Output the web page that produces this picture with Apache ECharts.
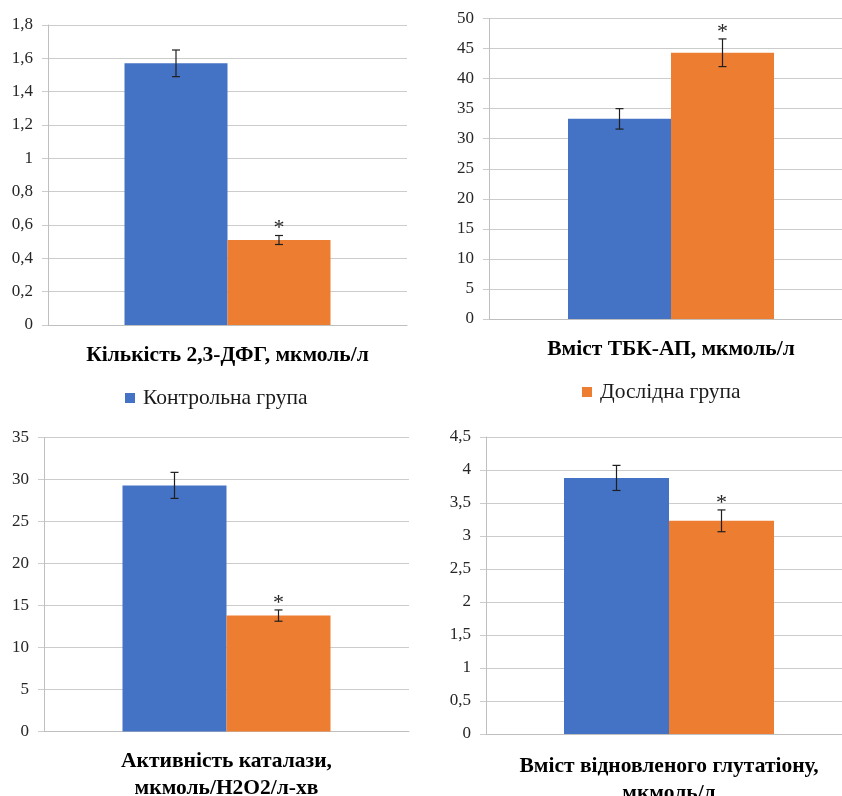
<!DOCTYPE html>
<html>
<head>
<meta charset="utf-8">
<title>chart</title>
<script src="https://cdn.jsdelivr.net/npm/echarts@6/dist/echarts.min.js"></script>
<style>
  html, body { margin: 0; padding: 0; background: #fff; width: 842px; height: 796px; overflow: hidden; }
  /* right plots run past the picture edge, so the canvas is a bit wider */
  #main { width: 870px; height: 796px; }
</style>
</head>
<body>
<div id="main"></div>
<script>
// data
var categories = [
    'Кількість 2,3-ДФГ, мкмоль/л',
    'Вміст ТБК-АП, мкмоль/л',
    'Активність каталази,\nмкмоль/H2O2/л-хв',
    'Вміст відновленого глутатіону,\nмкмоль/л'
];
var groupNames = ['Контрольна група', 'Дослідна група'];
var controlValues = [1.57, 33.3, 29.3, 3.88];
var controlErrors = [0.08, 1.7, 1.55, 0.19];
var testValues = [0.51, 44.3, 13.8, 3.23];
var testErrors = [0.027, 2.3, 0.67, 0.165];
var testStars = [true, true, true, true];
var yMax = [1.8, 50, 35, 4.5];
var yStep = [0.2, 5, 5, 0.5];

var serif = "'Liberation Serif', 'Times New Roman', serif";
var blue = '#4472C4';
var orange = '#ED7D31';

// plot boxes
var boxes = [
    { left: 48, top: 25, width: 359, height: 300, bar: 103, labelGap: 17 },
    { left: 489, top: 18.5, width: 364, height: 300.5, bar: 103, labelGap: 17 },
    { left: 44, top: 437.5, width: 365, height: 294, bar: 104, labelGap: 16 },
    { left: 486, top: 437, width: 366, height: 297, bar: 105, labelGap: 19 }
];

function tickText(v) {
    var s = (Math.round(v * 10) / 10).toString();
    return s.replace('.', ',');
}

// error bar with optional asterisk
function errorBar(offset, star) {
    return function (params, api) {
        var hi = api.coord([0, api.value(2)]);
        var lo = api.coord([0, api.value(3)]);
        var x = hi[0] + offset;
        var children = [
            { type: 'line', shape: { x1: x, y1: hi[1], x2: x, y2: lo[1] }, style: { stroke: '#1f1f1f', lineWidth: 1.2 } },
            { type: 'line', shape: { x1: x - 4, y1: hi[1], x2: x + 4, y2: hi[1] }, style: { stroke: '#1f1f1f', lineWidth: 1.2 } },
            { type: 'line', shape: { x1: x - 4, y1: lo[1], x2: x + 4, y2: lo[1] }, style: { stroke: '#1f1f1f', lineWidth: 1.2 } }
        ];
        if (star) {
            children.push({
                type: 'text',
                style: { text: '*', x: x, y: hi[1] - 7, align: 'center', verticalAlign: 'middle', fontSize: 22, fontFamily: serif, fill: '#262626' }
            });
        }
        return { type: 'group', children: children };
    };
}

var grids = [], xAxes = [], yAxes = [], series = [];

for (var i = 0; i < categories.length; i++) {
    var b = boxes[i];
    grids.push({ left: b.left, top: b.top, width: b.width, height: b.height, containLabel: false, outerBoundsMode: 'none' });

    xAxes.push({
        type: 'category',
        gridIndex: i,
        data: [categories[i]],
        axisLine: { lineStyle: { color: '#bfbfbf', width: 1 } },
        axisTick: { length: 7, lineStyle: { color: '#bfbfbf' } },
        axisLabel: { margin: b.labelGap, fontFamily: serif, fontSize: 21.5, fontWeight: 'bold', color: '#000', lineHeight: 27 }
    });

    yAxes.push({
        type: 'value',
        gridIndex: i,
        min: 0,
        max: yMax[i],
        interval: yStep[i],
        axisLine: { show: true, lineStyle: { color: '#bfbfbf', width: 1 } },
        axisTick: { show: true, length: 6, lineStyle: { color: '#cccccc' } },
        splitLine: { lineStyle: { color: '#cccccc', width: 1 } },
        axisLabel: { margin: 15, fontFamily: serif, fontSize: 17, color: '#262626', formatter: tickText }
    });

    series.push({
        name: groupNames[0], type: 'bar', xAxisIndex: i, yAxisIndex: i,
        barWidth: b.bar, barGap: '0%',
        itemStyle: { color: blue },
        data: [controlValues[i]]
    });
    series.push({
        name: groupNames[1], type: 'bar', xAxisIndex: i, yAxisIndex: i,
        barWidth: b.bar, barGap: '0%',
        itemStyle: { color: orange },
        data: [testValues[i]]
    });
    series.push({
        type: 'custom', xAxisIndex: i, yAxisIndex: i, z: 5,
        renderItem: errorBar(-b.bar / 2, false),
        encode: { x: 0, y: [1, 2, 3] },
        data: [[0, controlValues[i], controlValues[i] + controlErrors[i], controlValues[i] - controlErrors[i]]]
    });
    series.push({
        type: 'custom', xAxisIndex: i, yAxisIndex: i, z: 5,
        renderItem: errorBar(b.bar / 2, testStars[i]),
        encode: { x: 0, y: [1, 2, 3] },
        data: [[0, testValues[i], testValues[i] + testErrors[i], testValues[i] - testErrors[i]]]
    });
}

var chart = echarts.init(document.getElementById('main'));
chart.setOption({
    backgroundColor: '#fff',
    animation: false,
    legend: [
        {
            data: [groupNames[0]], left: 125, top: 387, padding: 0, icon: 'rect', itemWidth: 10, itemHeight: 10,
            textStyle: { fontFamily: serif, fontSize: 21.5, color: '#1a1a1a', padding: [0, 0, 0, 3] }
        },
        {
            data: [groupNames[1]], left: 582, top: 381, padding: 0, icon: 'rect', itemWidth: 10, itemHeight: 10,
            textStyle: { fontFamily: serif, fontSize: 21.5, color: '#1a1a1a', padding: [0, 0, 0, 3] }
        }
    ],
    grid: grids,
    xAxis: xAxes,
    yAxis: yAxes,
    series: series
});
</script>
</body>
</html>
